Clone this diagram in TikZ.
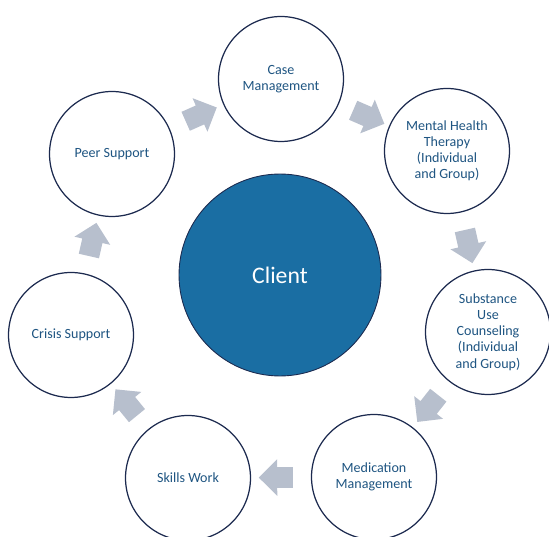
\documentclass[tikz,border=0pt]{standalone}
\usepackage{fontspec}
\setmainfont{Carlito}
\usetikzlibrary{shapes.arrows}
\definecolor{ringline}{HTML}{1C2A4F}
\definecolor{ringtext}{HTML}{1F5582}
\definecolor{clientblue}{HTML}{1A6EA3}
\definecolor{flowgray}{HTML}{B7BFCD}
\tikzstyle{ring} = [circle, minimum size=2.5cm, inner sep=0pt, align=center, draw=ringline, line width=0.7pt, fill=white, text=ringtext, font=\fontsize{8}{9.2}\selectfont]
\tikzstyle{hub} = [circle, minimum size=4.04cm, draw=ringline, line width=0.5pt, fill=clientblue, text=white, font=\fontsize{13.5}{16}\selectfont]
\tikzstyle{flow} = [single arrow, draw=none, fill=flowgray, minimum height=0.68cm, inner sep=0.2cm, single arrow head extend=0.16cm, sloped, allow upside down]
\begin{document}
\begin{tikzpicture}[x=0.02cm, y=-0.02cm]
		\useasboundingbox (0,0) rectangle (549,537);
		\node (client) [hub] at (280,275) {Client};
		\node (case) [ring] at (281,79) {Case\\Management};
		\node (therapy) [ring] at (447,151) {Mental Health\\Therapy\\(Individual\\and Group)};
		\node (substance) [ring] at (488,332) {Substance\\Use\\Counseling\\(Individual\\and Group)};
		\node (medication) [ring] at (374,477) {Medication\\Management};
		\node (skills) [ring] at (188,478) {Skills Work};
		\node (crisis) [ring] at (71,335) {Crisis Support};
		\node (peer) [ring] at (112,154) {Peer Support};

		\path (peer) -- node[flow] {} (case);
		\path (case) -- node[flow] {} (therapy);
		\path (therapy) -- node[flow] {} (substance);
		\path (substance) -- node[flow] {} (medication);
		\path (medication) -- node[flow] {} (skills);
		\path (skills) -- node[flow] {} (crisis);
		\path (crisis) -- node[flow] {} (peer);
	\end{tikzpicture}
\end{document}
